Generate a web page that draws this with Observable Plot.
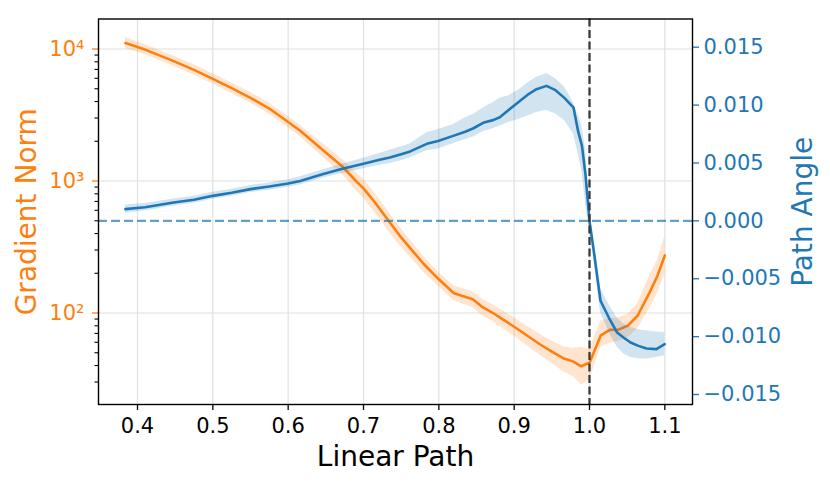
<!DOCTYPE html>
<html>
<head>
<meta charset="utf-8">
<script src="https://cdn.jsdelivr.net/npm/d3@7"></script>
<script src="https://cdn.jsdelivr.net/npm/@observablehq/plot@0.6"></script>
<style>
  html, body { margin: 0; padding: 0; background: white; }
  #chart { position: relative; width: 830px; height: 484px; font-family: "DejaVu Sans", sans-serif; }
  #chart svg { position: absolute; top: 0; left: 0; }
</style>
</head>
<body>
<div id="chart"></div>
<script>
// ---- Data ----
const xTicks = [0.4, 0.5, 0.6, 0.7, 0.8, 0.9, 1.0, 1.1];
const gradMajorTicks = [100, 1000, 10000];
const gradMinorTicks = [30, 40, 50, 60, 70, 80, 90, 200, 300, 400, 500, 600, 700, 800, 900,
                        2000, 3000, 4000, 5000, 6000, 7000, 8000, 9000];
const angleTicks = [-0.015, -0.010, -0.005, 0.000, 0.005, 0.010, 0.015];

// Gradient norm (orange): x, mean, lower band, upper band
const gradX    = [0.384, 0.41, 0.448, 0.475, 0.5, 0.525, 0.55, 0.575, 0.6, 0.616, 0.6455, 0.672, 0.69, 0.70, 0.715, 0.733, 0.748, 0.762, 0.78, 0.80, 0.82, 0.845, 0.857, 0.872, 0.887, 0.901, 0.918, 0.934, 0.95, 0.965, 0.978, 0.989, 1.0, 1.015, 1.027, 1.039, 1.051, 1.064, 1.08, 1.09, 1.1];
const gradMean = [11100, 9900, 8100, 6950, 5940, 5050, 4270, 3540, 2800, 2400, 1722, 1288, 1000, 880, 690, 502, 386, 310, 235, 180, 141, 127, 112, 100, 88, 78, 67, 58, 51, 45.5, 43, 39.5, 42, 67.6, 74.5, 75, 80.3, 95.7, 144, 190, 273];
const gradLo   = [10100, 9050, 7400, 6350, 5420, 4600, 3880, 3210, 2530, 2160, 1530, 1120, 850, 740, 575, 420, 325, 265, 203, 158, 124, 110, 96, 86, 75, 66, 56, 48, 41.5, 36, 33, 28.5, 31, 55, 59, 61, 65, 76, 108, 140, 195];
const gradHi   = [12200, 10800, 8850, 7600, 6500, 5530, 4690, 3890, 3090, 2650, 1920, 1460, 1160, 1030, 810, 590, 450, 358, 268, 203, 160, 145, 128, 115, 102, 91, 79, 69, 61.5, 55.5, 54, 55, 53, 87, 91, 92, 98, 118, 192, 250, 380];

// Path angle (blue): x, mean, lower band, upper band
const angX    = [0.384, 0.41, 0.448, 0.475, 0.5, 0.525, 0.55, 0.575, 0.6, 0.616, 0.6455, 0.672, 0.70, 0.72, 0.735, 0.75, 0.762, 0.784, 0.799, 0.819, 0.835, 0.846, 0.86, 0.872, 0.881, 0.893, 0.9076, 0.918, 0.9297, 0.9429, 0.9549, 0.967, 0.9788, 0.985, 0.990, 0.9947, 1.0, 1.0057, 1.0146, 1.0256, 1.0367, 1.0455, 1.0545, 1.065, 1.0756, 1.0888, 1.0998];
const angMean = [0.00101, 0.00118, 0.00158, 0.00183, 0.00216, 0.00243, 0.00274, 0.00296, 0.00322, 0.00345, 0.00403, 0.00450, 0.00493, 0.00525, 0.00547, 0.00576, 0.00600, 0.00665, 0.00690, 0.00734, 0.00770, 0.00800, 0.00850, 0.00870, 0.00895, 0.00960, 0.01036, 0.01090, 0.01137, 0.01166, 0.01129, 0.01060, 0.00978, 0.00770, 0.00648, 0.00400, 0.00000, -0.00259, -0.00690, -0.00835, -0.00965, -0.01010, -0.01051, -0.01080, -0.01103, -0.01108, -0.01065];
const angLo   = [0.00065, 0.00085, 0.00128, 0.00153, 0.00186, 0.00213, 0.00244, 0.00264, 0.00290, 0.00310, 0.00368, 0.00410, 0.00450, 0.00478, 0.00495, 0.00520, 0.00545, 0.00605, 0.00620, 0.00665, 0.00700, 0.00725, 0.00775, 0.00795, 0.00820, 0.00850, 0.00880, 0.00905, 0.00935, 0.00956, 0.00922, 0.00864, 0.00750, 0.00580, 0.00430, 0.00150, -0.00060, -0.00340, -0.00790, -0.00960, -0.01090, -0.01150, -0.01180, -0.01194, -0.01194, -0.01180, -0.01166];
const angHi   = [0.00137, 0.00150, 0.00188, 0.00213, 0.00246, 0.00273, 0.00306, 0.00328, 0.00356, 0.00380, 0.00440, 0.00492, 0.00540, 0.00580, 0.00610, 0.00640, 0.00665, 0.00760, 0.00790, 0.00830, 0.00890, 0.00920, 0.00980, 0.01020, 0.01060, 0.01080, 0.01140, 0.01190, 0.01240, 0.01272, 0.01227, 0.01154, 0.01020, 0.00910, 0.00820, 0.00620, 0.00060, -0.00180, -0.00580, -0.00720, -0.00840, -0.00890, -0.00920, -0.00940, -0.00950, -0.00960, -0.00965];

// ---- Tables for the library ----
const gradData = gradX.map((x, i) => ({x, mean: gradMean[i], lo: gradLo[i], hi: gradHi[i]}));
const angData = angX.map((x, i) => ({x, mean: angMean[i], lo: angLo[i], hi: angHi[i]}));

const ORANGE = "#ff7f0e";
const BLUE = "#1f77b4";
const GRID = "#dde2e2";
const sup = {"2": "\u00b2", "3": "\u00b3", "4": "\u2074"};

const common = {
  width: 830,
  height: 484,
  marginLeft: 98,
  marginRight: 138,
  marginTop: 18.5,
  marginBottom: 80,
  style: {fontFamily: "DejaVu Sans", background: "transparent", overflow: "visible"}
};

const plotA = Plot.plot({
  ...common,
  x: {domain: [0.34823, 1.13673], axis: null},
  y: {type: "log", domain: [20.27, 16880], axis: null},
  marks: [
    Plot.gridX(xTicks, {stroke: GRID, strokeOpacity: 1, strokeWidth: 1.2}),
    Plot.gridY(gradMajorTicks, {stroke: GRID, strokeOpacity: 1, strokeWidth: 1.2}),
    Plot.areaY(gradData, {x: "x", y1: "lo", y2: "hi", fill: ORANGE, fillOpacity: 0.2}),
    Plot.line(gradData, {x: "x", y: "mean", stroke: ORANGE, strokeWidth: 2.6}),
    Plot.axisY(gradMinorTicks, {anchor: "left", tickSize: 3.5, tickFormat: () => "", color: "black", strokeWidth: 1.1, label: null}),
    Plot.axisY(gradMajorTicks, {anchor: "left", tickSize: 6, tickPadding: 8, fontSize: 21, color: ORANGE, strokeWidth: 1.3, label: null,
      tickFormat: d => "10" + sup[String(Math.round(Math.log10(d)))]}),
    Plot.axisX(xTicks, {anchor: "bottom", tickSize: 6, tickPadding: 8, fontSize: 21, color: "black", strokeWidth: 1.3, label: null,
      tickFormat: d3.format(".1f")}),
    Plot.text(["Gradient Norm"], {text: d => d, frameAnchor: "left", dx: -63, rotate: -90, textAnchor: "middle", lineAnchor: "bottom",
      fontSize: 28, fill: ORANGE}),
    Plot.text(["Linear Path"], {text: d => d, frameAnchor: "bottom", dy: 61, textAnchor: "middle", lineAnchor: "bottom",
      fontSize: 28, fill: "black"})
  ]
});

const plotB = Plot.plot({
  ...common,
  x: {domain: [0.34823, 1.13673], axis: null},
  y: {type: "linear", domain: [-0.015864, 0.017436], axis: null},
  marks: [
    Plot.areaY(angData, {x: "x", y1: "lo", y2: "hi", fill: BLUE, fillOpacity: 0.2}),
    Plot.line(angData, {x: "x", y: "mean", stroke: BLUE, strokeWidth: 2.6}),
    Plot.ruleY([0], {stroke: BLUE, strokeOpacity: 0.7, strokeWidth: 2.4, strokeDasharray: "9,4"}),
    Plot.ruleX([1.0], {stroke: "#3a3a3a", strokeWidth: 2.3, strokeDasharray: "8,3.5"}),
    Plot.axisY(angleTicks, {anchor: "right", tickSize: 6, tickPadding: 5, fontSize: 21, color: BLUE, strokeWidth: 1.3, label: null,
      tickFormat: d3.format(".3f")}),
    Plot.text(["Path Angle"], {text: d => d, frameAnchor: "right", dx: 119, rotate: -90, textAnchor: "middle", lineAnchor: "bottom",
      fontSize: 28, fill: BLUE}),
    Plot.frame({stroke: "black", strokeWidth: 1.4})
  ]
});

const chart = document.getElementById("chart");
chart.appendChild(plotA);
chart.appendChild(plotB);
</script>
</body>
</html>
